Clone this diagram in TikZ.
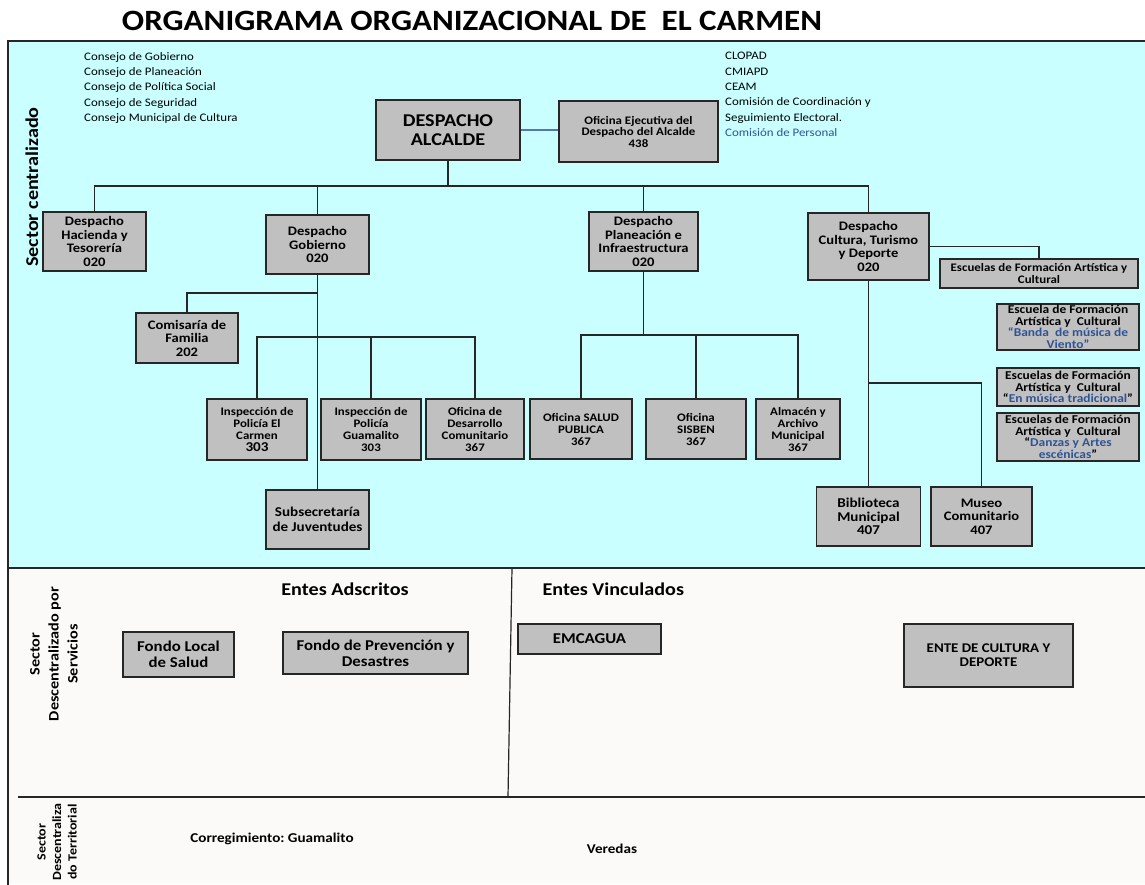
\documentclass[tikz,border=0pt]{standalone}
\usepackage{fontspec}
\setmainfont{Carlito}[FakeStretch=1.12]
\definecolor{celeste}{RGB}{201,255,255}
\definecolor{hueso}{RGB}{251,250,248}
\definecolor{gris}{RGB}{192,192,192}
\definecolor{azul}{RGB}{47,84,150}
\definecolor{borde}{RGB}{38,38,38}
\frenchspacing

\begin{document}
\begin{tikzpicture}[x=1pt, y=-1pt,
    caja/.style={draw=borde, line width=1.6pt, fill=gris, align=center, inner sep=1pt},
    letra/.style 2 args={font=\fontsize{#1}{#2}\selectfont\bfseries},
    lista/.style={font=\fontsize{11.5}{15.4}\selectfont, align=left, inner sep=0pt, anchor=north west},
    linea/.style={line width=1.6pt, black!85}]

	\useasboundingbox (0,0) rectangle (1145,884);

	% Fondos de los sectores
	\fill[white] (0,0) rectangle (1145,884);
	\fill[celeste] (8,41) rectangle (1145,568);
	\fill[hueso] (8,568) rectangle (1145,884);
	\draw[borde, line width=1.2pt] (1147,41) -- (8,41) -- (8,886);
	\draw[borde, line width=1.2pt] (8,568) -- (1147,568);
	\draw[borde, line width=1.2pt] (18,797) -- (1147,797);
	\draw[borde, line width=1.2pt] (512,568) -- (508,797);

	% Titulo
	\node[letra={29.5}{30}] (titulo) at (472,21) {ORGANIGRAMA ORGANIZACIONAL DE\ \ EL CARMEN};

	% Rotulos de los sectores
	\node[rotate=90, letra={18}{19}] (centralizado) at (32,187) {Sector centralizado};
	\node[rotate=90, align=center, letra={14.5}{19}] (servicios) at (54,654) {Sector\\Descentralizado por\\Servicios};
	\node[rotate=90, align=center, letra={12.5}{15.5}] (territorial) at (57,842) {Sector\\Descentraliza\\do Territorial};

	% Consejos y comisiones
	\node[lista] (consejos) at (84,52) {Consejo de Gobierno\\Consejo de Planeación\\Consejo de Política Social\\Consejo de Seguridad\\Consejo Municipal de Cultura};
	\node[lista] (comisiones) at (725,52) {CLOPAD\\CMIAPD\\CEAM\\Comisión de Coordinación y\\Seguimiento Electoral.\\\textcolor{azul}{Comisión de Personal}};

	% Despacho del alcalde
	\node[caja, minimum width=144, minimum height=60, letra={18}{19}] (alcalde) at (448,130) {DESPACHO\\ALCALDE};
	\node[caja, minimum width=159, minimum height=61, letra={11.5}{11.5}] (ejecutiva) at (638.5,131.5) {Oficina Ejecutiva del\\Despacho del Alcalde\\438};
	\draw[azul!80, line width=1.2pt] (alcalde.east) -- (alcalde.east -| ejecutiva.west);

	% Despachos
	\node[caja, minimum width=103, minimum height=59, letra={13}{13.5}] (hacienda) at (94.5,241.5) {Despacho\\Hacienda y\\Tesorería\\020};
	\node[caja, minimum width=103, minimum height=59, letra={13}{13.5}] (gobierno) at (317.5,244.5) {Despacho\\Gobierno\\020};
	\node[caja, minimum width=109, minimum height=59, letra={13}{13.5}] (planeacion) at (643.5,241.5) {Despacho\\Planeación e\\Infraestructura\\020};
	\node[caja, minimum width=121, minimum height=67, letra={13}{13.5}] (cultura) at (868.5,246.5) {Despacho\\Cultura, Turismo\\y Deporte\\020};

	\coordinate (bus) at (448,186);
	\draw[linea] (alcalde.south) -- (bus);
	\draw[linea] (hacienda.north) |- (bus) -| (cultura.north);
	\draw[linea] (gobierno.north) -- (gobierno.north |- bus);
	\draw[linea] (planeacion.north) -- (planeacion.north |- bus);

	% Dependencias de Gobierno
	\node[caja, minimum width=102, minimum height=50, letra={13}{13.5}] (comisaria) at (187,338) {Comisaría de\\Familia\\202};
	\node[caja, minimum width=100, minimum height=61, letra={11.5}{12}] (carmen) at (257,429.5) {Inspección de\\Policía El\\Carmen\\\fontsize{13.5}{13}\selectfont 303};
	\node[caja, minimum width=100, minimum height=61, letra={11.5}{12}] (guamalito) at (371,429.5) {Inspección de\\Policía\\Guamalito\\303};
	\node[caja, minimum width=98, minimum height=60, letra={11.5}{12}] (desarrollo) at (475,429) {Oficina de\\Desarrollo\\Comunitario\\367};
	\node[caja, minimum width=103, minimum height=59, letra={13.5}{15}] (juventudes) at (317.5,519.5) {Subsecretaría\\de Juventudes};

	\coordinate (gob1) at (317.5,293);
	\coordinate (gob2) at (317.5,337);
	\draw[linea] (gobierno.south) -- (juventudes.north);
	\draw[linea] (comisaria.north) |- (gob1);
	\draw[linea] (carmen.north) |- (desarrollo.north |- gob2) -- (desarrollo.north);
	\draw[linea] (guamalito.north) -- (guamalito.north |- gob2);

	% Dependencias de Planeacion
	\node[caja, minimum width=102, minimum height=60, letra={11.5}{12}] (salud) at (581,429) {Oficina SALUD\\PUBLICA\\367};
	\node[caja, minimum width=100, minimum height=60, letra={11.5}{12}] (sisben) at (696,429) {Oficina\\SISBEN\\367};
	\node[caja, minimum width=84, minimum height=60, letra={11.5}{12}] (almacen) at (798,429) {Almacén y\\Archivo\\Municipal\\367};

	\coordinate (pla) at (643.5,335);
	\draw[linea] (planeacion.south) -- (pla);
	\draw[linea] (salud.north) |- (almacen.north |- pla) -- (almacen.north);
	\draw[linea] (sisben.north) -- (sisben.north |- pla);

	% Dependencias de Cultura
	\node[caja, minimum width=198, minimum height=29, letra={11.5}{12.5}] (escuelas) at (1039,273.5) {Escuelas de Formación Artística y\\Cultural};
	\node[caja, minimum width=142, minimum height=46, inner sep=0pt, letra={12}{11.5}] (banda) at (1068,327) {Escuela de Formación\\Artística y\ \ Cultural\\\textcolor{azul}{“Banda\ \ de música de}\\\textcolor{azul}{Viento”}};
	\node[caja, minimum width=142, minimum height=38, inner sep=0pt, letra={12}{11.5}] (tradicional) at (1068,387) {Escuelas de Formación\\Artística y\ \ Cultural\\“\textcolor{azul}{En música tradicional}”};
	\node[caja, minimum width=142, minimum height=48, inner sep=0pt, letra={12}{11.5}] (danzas) at (1068,437) {Escuelas de Formación\\Artística y\ \ Cultural\\“\textcolor{azul}{Danzas y Artes}\\\textcolor{azul}{escénicas}”};
	\node[caja, minimum width=104, minimum height=59, letra={13.5}{13.5}] (biblioteca) at (868.5,516.5) {Biblioteca\\Municipal\\407};
	\node[caja, minimum width=101, minimum height=59, letra={13}{13.5}] (museo) at (981.5,516.5) {Museo\\Comunitario\\407};

	\coordinate (cul) at (868.5,383);
	\draw[linea] (cultura.east) -| (escuelas.north);
	\draw[linea] (cultura.south) -- (biblioteca.north);
	\draw[linea] (cul) -| (museo.north);

	% Sector descentralizado por servicios
	\node[letra={18}{19}] (adscritos) at (345,589) {Entes Adscritos};
	\node[letra={18}{19}, anchor=west] (vinculados) at (539,589) {Entes Vinculados};
	\node[caja, minimum width=111, minimum height=45, letra={15}{16}] (fondosalud) at (178.5,654.5) {Fondo Local\\de Salud};
	\node[caja, minimum width=185, minimum height=42, letra={15}{16}] (fondoprevencion) at (375.5,653) {Fondo de Prevención y\\Desastres};
	\node[caja, minimum width=143, minimum height=30, letra={15}{15}] (emcagua) at (589.5,639) {EMCAGUA};
	\node[caja, minimum width=169, minimum height=63, letra={13.3}{14}] (entecultura) at (988.5,655.5) {ENTE DE CULTURA Y\\DEPORTE};

	% Sector descentralizado territorial
	\node[letra={13.5}{14}] (corregimiento) at (272,839) {Corregimiento: Guamalito};
	\node[letra={13.5}{14}] (veredas) at (612,849) {Veredas};
\end{tikzpicture}
\end{document}
